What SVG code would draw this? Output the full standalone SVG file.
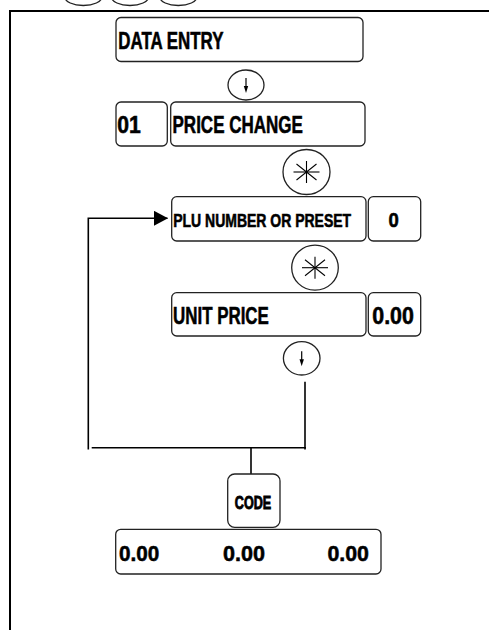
<svg xmlns="http://www.w3.org/2000/svg" width="489" height="630" viewBox="0 0 489 630">
<style>
.box{fill:#fff;stroke:#222;stroke-width:1.3}
.key{fill:#fff;stroke:#222;stroke-width:1.3}
.t{font-family:"Liberation Sans",Arial,sans-serif;font-weight:bold;fill:#000;stroke:#000;stroke-width:0.55}
.ln{fill:none;stroke:#000;stroke-width:1.6}
.sp{stroke:#000;stroke-width:1.1;fill:none}
</style>
<defs>
<marker id="ah" markerWidth="14" markerHeight="15" refX="13.5" refY="7.5" orient="auto" markerUnits="userSpaceOnUse">
<path d="M0,0 L14,7.5 L0,15 Z" fill="#000"/>
</marker>
<g id="dn">
<line x1="0" y1="-7" x2="0" y2="2" stroke="#000" stroke-width="1.2"/>
<path d="M-2.2,1 L2.2,1 L0,8 Z" fill="#000"/>
</g>
<g id="star">
<line x1="0" y1="-11" x2="0" y2="11"/>
<line x1="-13" y1="0" x2="13" y2="0"/>
<line x1="-10" y1="-8" x2="10" y2="8"/>
<line x1="-10" y1="8" x2="10" y2="-8"/>
</g>
</defs>
<rect width="489" height="630" fill="#fff"/>

<g id="frame">
<path d="M10,630 V11 H489" fill="none" stroke="#000" stroke-width="2"/>
<ellipse cx="83.3" cy="-3" rx="18.5" ry="8.5" class="key"/>
<ellipse cx="130" cy="-3" rx="18.5" ry="8.5" class="key"/>
<ellipse cx="178.3" cy="-3" rx="18.5" ry="8.5" class="key"/>
</g>

<g id="connectors">
<polyline class="ln" points="88.3,449.5 88.3,218.3 167.5,218.3" marker-end="url(#ah)"/>
<line class="ln" x1="91.7" y1="447.7" x2="306" y2="447.7"/>
<line class="ln" x1="305" y1="381.7" x2="305" y2="449.5"/>
<line class="ln" x1="251" y1="447.7" x2="251" y2="474"/>
</g>

<g id="data-entry">
<rect class="box" x="116" y="17.5" width="247" height="44" rx="5"/>
<text class="t" transform="translate(118.3,49) scale(0.735,1)" font-size="23">DATA ENTRY</text>
</g>

<g id="key-down-1">
<ellipse class="key" cx="246" cy="85" rx="18" ry="15"/>
<use href="#dn" x="246" y="85"/>
</g>

<g id="code-01">
<rect class="box" x="116" y="102" width="51.3" height="44" rx="5"/>
<text class="t" transform="translate(117.3,132.5) scale(0.92,1)" font-size="23">01</text>
</g>

<g id="price-change">
<rect class="box" x="170.7" y="102" width="194.3" height="44" rx="5"/>
<text class="t" transform="translate(172.5,132.5) scale(0.74,1)" font-size="23">PRICE CHANGE</text>
</g>

<g id="key-star-1">
<ellipse class="key" cx="306.5" cy="172" rx="23.5" ry="22.5"/>
<use href="#star" x="306.5" y="172" class="sp"/>
</g>

<g id="plu-number">
<rect class="box" x="171.7" y="196.7" width="194.3" height="44.3" rx="5"/>
<text class="t" transform="translate(173.2,226.7) scale(0.8,1)" font-size="17.5">PLU NUMBER OR PRESET</text>
</g>

<g id="plu-value">
<rect class="box" x="368.3" y="196.7" width="52.4" height="44.3" rx="5"/>
<text class="t" transform="translate(388.6,227.3) scale(0.95,1)" font-size="19.5">0</text>
</g>

<g id="key-star-2">
<ellipse class="key" cx="315" cy="267.7" rx="23.3" ry="22.5"/>
<use href="#star" x="315" y="267.7" class="sp"/>
</g>

<g id="unit-price">
<rect class="box" x="171.7" y="292.7" width="194.3" height="43.3" rx="5"/>
<text class="t" transform="translate(173,323.5) scale(0.72,1)" font-size="23.5">UNIT PRICE</text>
</g>

<g id="unit-price-value">
<rect class="box" x="368.3" y="292.7" width="52.4" height="43.3" rx="5"/>
<text class="t" transform="translate(372.3,323.5) scale(0.91,1)" font-size="23.5">0.00</text>
</g>

<g id="key-down-2">
<ellipse class="key" cx="301.7" cy="358.3" rx="18.3" ry="16.7"/>
<use href="#dn" x="301.7" y="358.3"/>
</g>

<g id="code-key">
<rect class="box" x="227.7" y="474" width="52.3" height="53.3" rx="7"/>
<text class="t" transform="translate(234.8,509.3) scale(0.72,1)" font-size="17.5" style="stroke-width:0.9">CODE</text>
</g>

<g id="totals">
<rect class="box" x="115.7" y="529.3" width="265.3" height="44.7" rx="5"/>
<text class="t" transform="translate(119,560.7) scale(0.94,1)" font-size="22">0.00</text>
<text class="t" transform="translate(223,560.7) scale(0.98,1)" font-size="22">0.00</text>
<text class="t" transform="translate(327.4,560.7) scale(0.97,1)" font-size="22">0.00</text>
</g>
</svg>
